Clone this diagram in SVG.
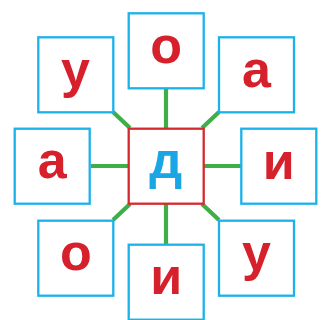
<svg xmlns="http://www.w3.org/2000/svg" width="329" height="320" viewBox="0 0 329 320">
<style>
.box{fill:#fff;stroke:#1bb2ea;stroke-width:2.3}
.ctr{fill:#fff;stroke:#d42a2f;stroke-width:2.3}
.lt{font-family:"Liberation Sans",Arial,sans-serif;font-weight:bold;font-size:52px;fill:#d6202c;text-anchor:middle}
.lc{font-family:"Liberation Sans",Arial,sans-serif;font-weight:bold;font-size:52px;fill:#1aa6e4;text-anchor:middle}
.cn{stroke:#3fae49;stroke-width:4.2;fill:none}
</style>
<rect width="329" height="320" fill="#fff"/>
<g id="connectors">
<line class="cn" x1="166" y1="89" x2="166" y2="128"/>
<line class="cn" x1="166" y1="204" x2="166" y2="244"/>
<line class="cn" x1="91" y1="166" x2="128" y2="166"/>
<line class="cn" x1="204" y1="166" x2="241" y2="166"/>
<line class="cn" x1="113" y1="112" x2="130" y2="128"/>
<line class="cn" x1="219" y1="112" x2="202" y2="128"/>
<line class="cn" x1="113" y1="220" x2="130" y2="204"/>
<line class="cn" x1="219" y1="220" x2="202" y2="204"/>
</g>
<g id="n-top"><rect class="box" x="128.7" y="13.3" width="75" height="75"/><text class="lt" x="166.2" y="62.8">о</text></g>
<g id="n-tl"><rect class="box" x="38.3" y="37.3" width="75" height="75"/><text class="lt" x="75.5" y="86.8">у</text></g>
<g id="n-tr"><rect class="box" x="219" y="37.3" width="75" height="75"/><text class="lt" x="256.5" y="86.8">а</text></g>
<g id="n-left"><rect class="box" x="14.7" y="128.7" width="75" height="75"/><text class="lt" x="52.2" y="178.2">а</text></g>
<g id="n-center"><rect class="ctr" x="128.7" y="128.7" width="75" height="75"/><text class="lc" x="165.7" y="177.7">д</text></g>
<g id="n-right"><rect class="box" x="241.3" y="128.7" width="75" height="75"/><text class="lt" x="278.8" y="178.7">и</text></g>
<g id="n-bl"><rect class="box" x="38.3" y="220.7" width="75" height="75"/><text class="lt" x="75.8" y="270.2">о</text></g>
<g id="n-bottom"><rect class="box" x="128.7" y="244.7" width="75" height="75"/><text class="lt" x="166.2" y="294.2">и</text></g>
<g id="n-br"><rect class="box" x="219" y="220.7" width="75" height="75"/><text class="lt" x="256.5" y="270.2">у</text></g>
</svg>
